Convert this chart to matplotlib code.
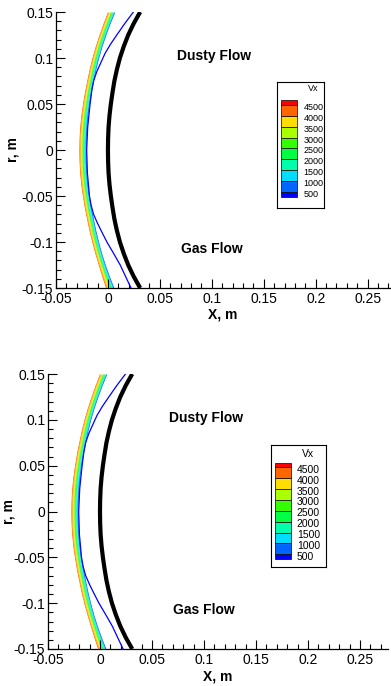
import numpy as np
import matplotlib
matplotlib.use("Agg")
import matplotlib.pyplot as plt
from matplotlib.ticker import MultipleLocator

plt.rcParams["font.family"] = ["Liberation Sans", "DejaVu Sans"]

# curves (x in m, at radial positions r in m)
r_grid = [-0.15, -0.1375, -0.125, -0.1125, -0.1, -0.0875, -0.075, -0.0625, -0.05, -0.0375, -0.025, -0.0125, 0.0,
          0.0125, 0.025, 0.0375, 0.05, 0.0625, 0.075, 0.0875, 0.1, 0.1125, 0.125, 0.1375, 0.15]
shock_x = [0.031, 0.0248, 0.0195, 0.0152, 0.0115, 0.0086, 0.0062, 0.0044, 0.0028, 0.0015, 0.0006, 0.00015, 0.0,
           0.00015, 0.0006, 0.0015, 0.0028, 0.0044, 0.0062, 0.0086, 0.0115, 0.0152, 0.0195, 0.0248, 0.031]
band_outer_x = [-0.0022, -0.0058, -0.0092, -0.0125, -0.0155, -0.0182, -0.0205, -0.0227, -0.0245, -0.0261,
                -0.0272, -0.0278, -0.028, -0.0278, -0.0272, -0.0261, -0.0245, -0.0227, -0.0205, -0.0182,
                -0.0155, -0.0123, -0.0087, -0.0048, -0.0005]
band_inner_x = [0.0058, 0.0015, -0.0025, -0.006, -0.009, -0.0117, -0.014, -0.0162, -0.018, -0.0195,
                -0.0205, -0.021, -0.0212, -0.021, -0.0205, -0.0195, -0.018, -0.0162, -0.014, -0.0117,
                -0.009, -0.0058, -0.0021, 0.002, 0.0065]

gas_r = [-0.15, -0.1375, -0.125, -0.1125, -0.1, -0.09, -0.08, -0.07, -0.06, -0.05, -0.025, 0.0,
         0.025, 0.05, 0.065, 0.075, 0.085, 0.095, 0.105, 0.115, 0.125, 0.1375, 0.15]
gas_x = [0.0222, 0.017, 0.0118, 0.0055, -0.001, -0.0055, -0.0099, -0.0138, -0.0162, -0.0178, -0.0198, -0.0205,
         -0.0195, -0.0172, -0.0155, -0.0138, -0.0108, -0.0068, -0.0028, 0.0025, 0.0085, 0.0162, 0.0245]

# Vx contour legend
vx_levels = [500, 1000, 1500, 2000, 2500, 3000, 3500, 4000, 4500]
vx_edges = [290, 500, 1000, 1500, 2000, 2500, 3000, 3500, 4000, 4500, 4720]
vx_colors = ["#0000FF", "#0066FF", "#00DDFF", "#00FFAA", "#00FF44",
             "#33FF00", "#AAFF00", "#FFDD00", "#FF6600", "#FF0000"]
band_colors = ["#FF6600", "#FFAA00", "#FFDD00", "#AAFF00", "#33FF00",
               "#00FF44", "#00FFAA", "#00DDFF", "#0066FF"]

xticks = [-0.05, 0, 0.05, 0.1, 0.15, 0.2, 0.25]
xtick_labels = ["-0.05", "0", "0.05", "0.1", "0.15", "0.2", "0.25"]
yticks = [-0.15, -0.1, -0.05, 0, 0.05, 0.1, 0.15]
ytick_labels = ["-0.15", "-0.1", "-0.05", "0", "0.05", "0.1", "0.15"]


def draw_panel(fig, rect, xmax, ylab_x, xlab_y, legend_rect, leg_ylim, leg_fs, leg_cols, vx_y):
    ax = fig.add_axes(rect)
    outer = np.array(band_outer_x)
    inner = np.array(band_inner_x)
    n = len(band_colors)
    for i, c in enumerate(band_colors):
        a = outer + (inner - outer) * i / n
        b = outer + (inner - outer) * (i + 1) / n
        ax.fill_betweenx(r_grid, a, b, color=c, lw=0)
    ax.plot(gas_x, gas_r, color="#0000FF", lw=0.9)
    ax.plot(shock_x, r_grid, color="black", lw=3.0, solid_capstyle="butt")

    ax.text(0.102, 0.102, "Dusty Flow", fontsize=10, fontweight="bold", ha="center", va="center")
    ax.text(0.100, -0.108, "Gas Flow", fontsize=10, fontweight="bold", ha="center", va="center")

    ax.set_xlim(-0.05, xmax)
    ax.set_ylim(-0.15, 0.15)
    ax.set_xticks(xticks)
    ax.set_xticklabels(xtick_labels)
    ax.set_yticks(yticks)
    ax.set_yticklabels(ytick_labels)
    ax.xaxis.set_minor_locator(MultipleLocator(0.01))
    ax.yaxis.set_minor_locator(MultipleLocator(0.01))
    ax.tick_params(which="both", direction="in", width=0.8, labelsize=10, top=False, right=False)
    ax.tick_params(which="major", length=6.5)
    ax.tick_params(which="minor", length=3.5)
    ax.tick_params(axis="x", pad=3)
    ax.tick_params(axis="y", pad=2)
    for s in ("top", "right"):
        ax.spines[s].set_visible(False)
    for s in ("left", "bottom"):
        ax.spines[s].set_linewidth(0.9)
    ax.set_xlabel("X, m", fontsize=10, fontweight="bold")
    ax.set_ylabel("r, m", fontsize=10, fontweight="bold")
    ax.xaxis.set_label_coords(0.5, xlab_y)
    ax.yaxis.set_label_coords(ylab_x, 0.5)

    # contour legend box
    cax = fig.add_axes(legend_rect)
    cax.set_xlim(0, 1)
    cax.set_ylim(*leg_ylim)
    heights = np.diff(vx_edges)
    sw0, sw1, lab_x, vx_x = leg_cols
    cax.bar(sw0, heights, width=sw1 - sw0, bottom=vx_edges[:-1], align="edge",
            color=vx_colors, edgecolor="black", lw=0.5)
    for lev in vx_levels:
        cax.annotate(str(lev), (lab_x, lev), xytext=(0, -1.8), textcoords="offset points",
                     fontsize=leg_fs, va="center", ha="left")
    cax.text(vx_x, vx_y, "Vx", fontsize=leg_fs, ha="center", va="center")
    cax.set_xticks([])
    cax.set_yticks([])
    for s in cax.spines.values():
        s.set_linewidth(0.8)
    return ax


fig = plt.figure(figsize=(3.91, 6.86), dpi=100)

draw_panel(fig, [56 / 391, 1 - 288 / 686, 334 / 391, 276 / 686], 0.2715, -0.108, -0.072,
           [277 / 391, 1 - 208 / 686, 47 / 391, 126 / 686], (-234, 5555), 6.5,
           (0.08, 0.43, 0.56, 0.78), 5234)
draw_panel(fig, [48 / 391, 1 - 649 / 686, 340 / 391, 275 / 686], 0.277, -0.097, -0.076,
           [271 / 391, 1 - 567 / 686, 55 / 391, 122 / 686], (-85, 5530), 7.5,
           (0.073, 0.364, 0.47, 0.67), 5113)

fig.savefig("out.png", dpi=100)
